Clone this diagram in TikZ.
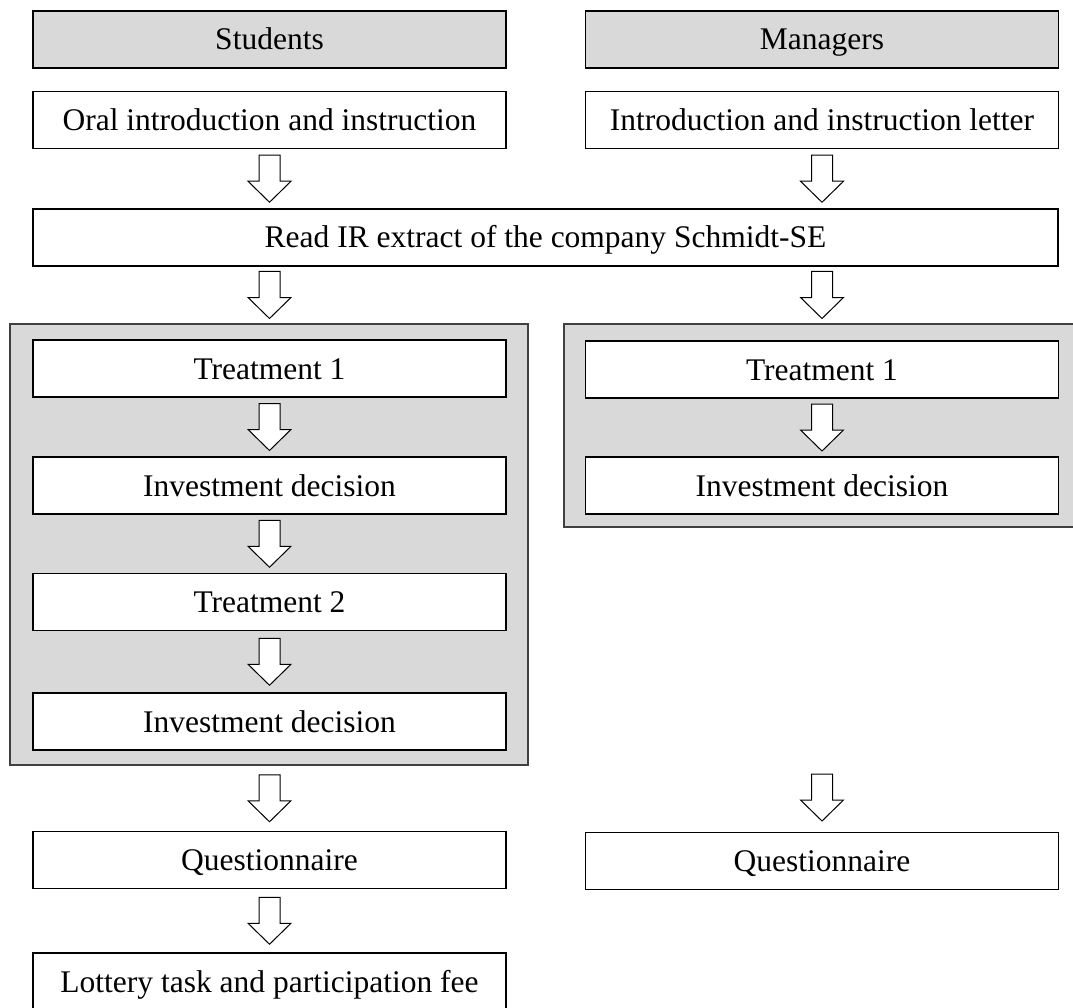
\documentclass[tikz,border=0pt]{standalone}
\usepackage{fontspec}
\setmainfont{Liberation Serif}
\usetikzlibrary{calc}
\definecolor{panelgray}{RGB}{217,217,217}
\definecolor{frameline}{RGB}{64,64,64}

% hollow block arrow centred between two stacked nodes, on a given column
\newcommand\flow[3]{\path let \p1=(#1.south), \p2=(#2.north), \p3=(#3) in
  pic at (\x3,{0.5*(\y1+\y2)}) {blockarr};}
% hollow block arrow sitting just above the target node (#2), from #1
\newcommand\flowinto[3]{\path let \p1=(#2.north), \p3=(#3) in
  pic at (\x3,{\y1+35}) {blockarr};}

\begin{document}
\begin{tikzpicture}[x=1pt,y=1pt,
  every node/.style={inner sep=0pt, outer sep=0pt, font=\fontsize{31.5}{38}\selectfont,
    text height=23pt, text depth=2pt},
  stage/.style={draw=black, line width=1.3pt, fill=white, minimum height=57pt},
  colbox/.style={stage, minimum width=473pt},
  headbox/.style={colbox, fill=panelgray},
  panel/.style={draw=frameline, line width=1.2pt, fill=panelgray},
  hollow/.style={draw=black, line width=1pt, fill=white, line join=miter},
  blockarr/.pic={\draw[hollow] (-10.5,23.5) -- (10.5,23.5) -- (10.5,-2.5)
     -- (21.5,-2.5) -- (0,-23.5) -- (-21.5,-2.5) -- (-10.5,-2.5) -- cycle;}
]
\useasboundingbox (0,0) rectangle (1073,-1008);

% column axes
\coordinate (colS) at (269.5,0);
\coordinate (colM) at (822,0);

% grey panels grouping the treatment stages
\node[panel, minimum width=518pt, minimum height=441pt] (contS) at (269,-544.5) {};
\node[panel, minimum width=516pt, minimum height=203pt] (contM) at (822,-425.5) {};

% headers
\node[headbox] (hdrS) at (269.5,-39.5) {Students};
\node[headbox] (hdrM) at (822,-39.5) {Managers};

% introduction
\node[colbox] (introS) at (269.5,-120) {Oral introduction and instruction};
\node[colbox] (introM) at (822,-120) {Introduction and instruction letter};

% shared reading stage
\node[stage, minimum width=1025pt] (read) at (545.5,-237.5) {Read IR extract of the company Schmidt-SE};

% students: two treatments
\node[colbox] (t1S) at (269.5,-368.5) {Treatment 1};
\node[colbox] (d1S) at (269.5,-485.5) {Investment decision};
\node[colbox] (t2S) at (269.5,-602) {Treatment 2};
\node[colbox] (d2S) at (269.5,-721.5) {Investment decision};

% managers: one treatment
\node[colbox] (t1M) at (822,-369.5) {Treatment 1};
\node[colbox] (d1M) at (822,-485.5) {Investment decision};

% closing stages
\node[colbox] (qS) at (269.5,-860) {Questionnaire};
\node[colbox] (qM) at (822,-861) {Questionnaire};
\node[colbox] (lot) at (269.5,-981.5) {Lottery task and participation fee};

% flow arrows
\flow{introS}{read}{colS}
\flow{introM}{read}{colM}
\flow{read}{contS}{colS}
\flow{read}{contM}{colM}
\flow{t1S}{d1S}{colS}
\flow{d1S}{t2S}{colS}
\flow{t2S}{d2S}{colS}
\flow{t1M}{d1M}{colM}
\flow{contS}{qS}{colS}
\flowinto{contM}{qM}{colM}
\flow{qS}{lot}{colS}
\end{tikzpicture}
\end{document}
